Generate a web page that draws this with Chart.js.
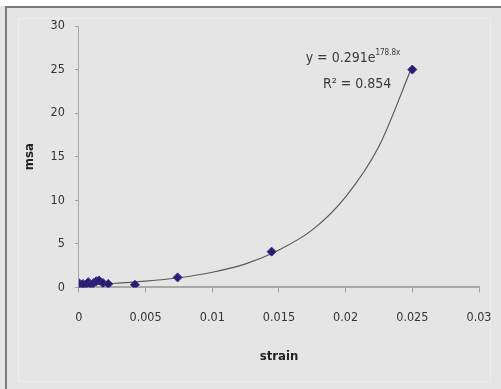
<!DOCTYPE html>
<html>
<head>
<meta charset="utf-8">
<script src="https://cdn.jsdelivr.net/npm/chart.js@4"></script>
<style>
  html, body { margin: 0; padding: 0; background: #e5e5e5; }
  #wrap { width: 501px; height: 389px; position: relative; }
</style>
</head>
<body>
<div id="wrap"><canvas id="msaChart" width="501" height="389"></canvas></div>
<script>
// measured points (strain, msa)
var strain = [0, 0.0001, 0.0003, 0.0005, 0.0007, 0.0009, 0.0011, 0.0013, 0.0015, 0.0018, 0.0022, 0.0042, 0.0074, 0.01445, 0.025];
var msa    = [0.5, 0.2, 0.4, 0.3, 0.6, 0.3, 0.5, 0.7, 0.8, 0.5, 0.4, 0.3, 1.15, 4.1, 25];

// exponential trendline
var trendX = [0, 0.0025, 0.005, 0.0075, 0.01, 0.0125, 0.015, 0.0175, 0.02, 0.0225, 0.025];
var trendY = [0.29, 0.45, 0.71, 1.11, 1.74, 2.7, 4.3, 6.6, 10.4, 16.2, 25.4];

var xTicks = [0, 0.005, 0.01, 0.015, 0.02, 0.025, 0.03];
var yTicks = [0, 5, 10, 15, 20, 25, 30];

var narrow = "'Liberation Sans Narrow', 'DejaVu Sans Condensed', sans-serif";
var tickFont = { family: narrow, size: 12.5 };
var titleFont = { family: narrow, size: 13, weight: 'bold' };

var points = strain.map(function (s, i) { return { x: s, y: msa[i] }; });
var trend = trendX.map(function (s, i) { return { x: s, y: trendY[i] }; });

// frame + equation text
var decor = {
    id: 'decor',
    beforeDraw: function (chart) {
        var c = chart.ctx;
        c.save();
        c.fillStyle = '#ffffff';
        c.fillRect(0, 0, chart.width, 6);
        c.strokeStyle = '#7a7a7a';
        c.lineWidth = 2;
        c.beginPath();
        c.moveTo(6, 389);
        c.lineTo(6, 7);
        c.lineTo(501, 7);
        c.stroke();
        c.strokeStyle = '#eeeeee';
        c.lineWidth = 1;
        c.strokeRect(18.5, 18.5, 472, 363);
        c.restore();
    },
    afterDraw: function (chart) {
        var c = chart.ctx;
        var xs = chart.scales.x, ys = chart.scales.y;
        c.save();
        c.fillStyle = '#3a3a3a';
        c.font = "14px " + narrow;
        c.textBaseline = 'alphabetic';
        var x0 = xs.getPixelForValue(0.0170), y0 = ys.getPixelForValue(25.9);
        c.fillText('y = 0.291e', x0, y0);
        var w = c.measureText('y = 0.291e').width;
        c.font = "8px " + narrow;
        c.fillText('178.8x', x0 + w, y0 - 7);
        c.font = "14px " + narrow;
        var x1 = xs.getPixelForValue(0.0183), y1 = ys.getPixelForValue(22.9);
        c.fillText('R\u00b2 = 0.854', x1, y1);
        c.restore();
    }
};

new Chart(document.getElementById('msaChart').getContext('2d'), {
    type: 'scatter',
    data: {
        datasets: [{
            label: 'msa',
            data: points,
            pointStyle: 'rectRot',
            pointRadius: 4.5,
            pointBackgroundColor: '#2b1b6e',
            pointBorderColor: '#3a2a8a',
            pointBorderWidth: 1,
            showLine: false,
            order: 1
        }, {
            label: 'trend',
            data: trend,
            showLine: true,
            borderColor: '#5a5a5a',
            borderWidth: 1.2,
            pointRadius: 0,
            cubicInterpolationMode: 'monotone',
            order: 2
        }]
    },
    options: {
        responsive: false,
        animation: false,
        layout: { padding: { left: 20, right: 22, top: 26, bottom: 25 } },
        plugins: {
            legend: { display: false },
            tooltip: { enabled: false }
        },
        scales: {
            x: {
                type: 'linear',
                min: 0,
                max: 0.03,
                afterBuildTicks: function (axis) { axis.ticks = xTicks.map(function (v) { return { value: v }; }); },
                afterFit: function (axis) { axis.paddingRight = 0; axis.paddingLeft = 0; },
                ticks: {
                    font: tickFont,
                    color: '#333',
                    padding: 18,
                    callback: function (v) { return String(v); }
                },
                grid: { drawOnChartArea: false, color: '#a0a0a0', tickLength: 5 },
                border: { color: '#a8a8a8', width: 2 },
                title: { display: true, text: 'strain', font: titleFont, color: '#222', padding: { top: 5, bottom: 0 } }
            },
            y: {
                min: 0,
                max: 30,
                afterBuildTicks: function (axis) { axis.ticks = yTicks.map(function (v) { return { value: v }; }); },
                ticks: { font: tickFont, color: '#333', padding: 10 },
                grid: { drawOnChartArea: false, color: '#a0a0a0', tickLength: 4 },
                border: { color: '#a8a8a8', width: 1 },
                title: { display: true, text: 'msa', font: titleFont, color: '#222', padding: { top: 2, bottom: 3 } }
            }
        }
    },
    plugins: [decor]
});
</script>
</body>
</html>
